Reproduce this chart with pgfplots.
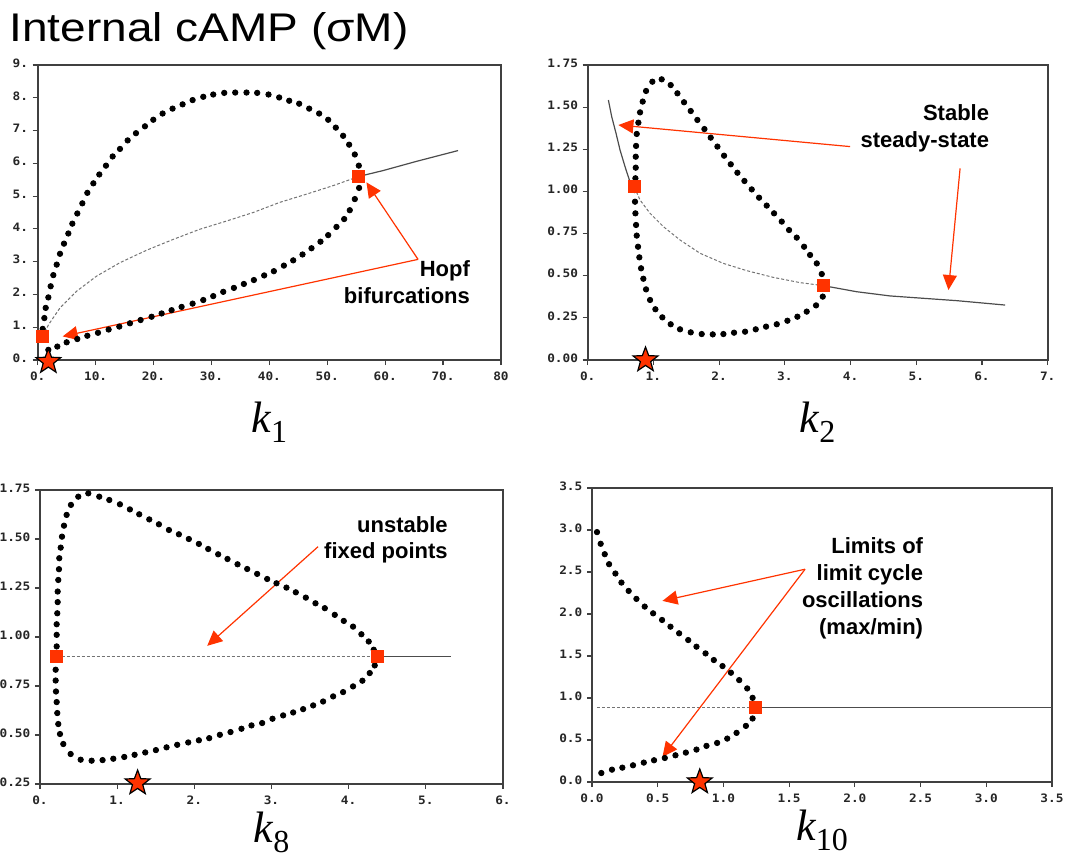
\documentclass[border=0pt]{standalone}
\usepackage{fontspec}
\setmainfont{Liberation Sans}
\newfontfamily\serif{Liberation Serif}
\newfontfamily\tickfont{DejaVu Sans Mono}[FakeStretch=1.1]
\newfontfamily\titlefont{Liberation Sans}[FakeStretch=1.15]
\usepackage{pgfplots}
\pgfplotsset{compat=1.18}
\usetikzlibrary{arrows.meta,shapes.geometric}

\definecolor{hopf}{HTML}{FF3300}

% filled five-point star used for the reference parameter value
\pgfdeclareplotmark{fstar}{%
  \node[star,star points=5,star point ratio=2.4,minimum size=13pt,inner sep=0pt,
        draw=black,line width=0.6pt,fill=hopf,solid]{};}

\newcommand\klabel[1]{{\serif\fontsize{22}{24}\selectfont\itshape k}%
  {\serif\fontsize{16}{18}\selectfont\raisebox{-5pt}{#1}}}

\tikzset{
  note/.style={anchor=north east, align=right, inner sep=0pt,
    font=\bfseries\fontsize{11}{13.4}\selectfont},
  arr/.style={hopf, line width=0.6pt, -{Triangle[length=7.5pt,width=7pt]}},
}
\pgfplotsset{
  panel/.style={
    scale only axis, clip=false,
    axis line style={draw=black!75, line width=0.9pt},
    tick style={black!75, line width=0.6pt},
    major tick length=2.5pt, tick align=outside,
    xtick pos=bottom, ytick pos=left,
    tick label style={font=\tickfont\bfseries\fontsize{5.8}{7}\selectfont, text=black!85},
    yticklabel style={yshift=1pt, xshift=1.2pt},
  },
  stable/.style={black!70, line width=0.6pt},
  unstable/.style={black!55, line width=0.5pt, dash pattern=on 1.5pt off 1pt},
  cycle/.style={only marks, mark=*, mark size=1.35pt, black},
  hopfpt/.style={only marks, mark=square*, mark size=3pt, hopf},
  refpt/.style={only marks, mark=fstar},
}

\begin{document}
\begin{tikzpicture}
\path[use as bounding box] (0pt,0pt) rectangle (533.5pt,429.5pt);

\node[anchor=base west, inner sep=0pt, font=\titlefont\fontsize{20}{24}\selectfont]
  at (4.5pt,408.6pt) {Internal cAMP (σM)};

% ---------------- k1 ----------------
\begin{axis}[panel, at={(18.85pt,249.5pt)}, anchor=south west,
  width=231.65pt, height=147.5pt,
  xmin=0, xmax=80, ymin=0, ymax=9,
  xtick={0,10,...,80}, xticklabels={0.,10.,20.,30.,40.,50.,60.,70.,80},
  ytick={0,1,...,9}, yticklabels={0.,1.,2.,3.,4.,5.,6.,7.,8.,9.},
  xlabel={\klabel{1}},
  xlabel style={at={(axis description cs:0.5,0)}, anchor=base, yshift=-36pt},
]
\addplot[unstable] coordinates {
  (0.86,0.72)(1.84,1.07)(3.85,1.59)(6.73,2.10)(10.18,2.56)(14.21,2.97)(18.81,3.35)
  (23.41,3.68)(28.01,3.99)(32.61,4.24)(37.21,4.50)(41.81,4.81)(46.42,5.06)
  (51.02,5.32)(55.45,5.6)};
\addplot[stable] coordinates {
  (55.45,5.6)(59.65,5.78)(65.40,6.06)(72.59,6.39)};
\addplot[cycle] coordinates {
  (0.86,0.95)(1.15,1.28)(1.38,1.59)(1.84,1.91)(2.24,2.25)(2.70,2.59)(3.28,2.91)
  (3.85,3.24)(4.54,3.55)(5.29,3.86)(5.98,4.16)(6.84,4.47)(7.71,4.78)(8.57,5.10)
  (9.61,5.39)(10.64,5.66)(11.79,5.93)(12.94,6.21)(14.21,6.44)(15.53,6.70)
  (16.97,6.92)(18.52,7.13)(19.96,7.33)(21.57,7.52)(23.29,7.67)(25.02,7.80)
  (26.75,7.93)(28.59,8.03)(30.31,8.10)(32.21,8.15)(34.11,8.16)(36.06,8.16)
  (37.90,8.15)(39.86,8.10)(41.70,8.01)(43.43,7.91)(45.15,7.82)(46.88,7.67)
  (48.60,7.52)(50.16,7.33)(51.48,7.09)(52.74,6.84)(53.78,6.57)(54.76,6.27)
  (55.45,5.93)(55.62,5.59)(55.50,5.25)(54.76,4.91)(53.89,4.57)(52.92,4.30)
  (51.59,4.06)(50.16,3.81)(48.83,3.61)(47.28,3.41)(45.73,3.22)(44.12,3.04)
  (42.51,2.88)(40.78,2.71)(39.11,2.58)(37.33,2.44)(35.60,2.32)(33.88,2.20)
  (32.04,2.08)(30.31,1.95)(28.59,1.83)(26.75,1.72)(24.85,1.62)(23.12,1.52)
  (21.40,1.42)(19.67,1.32)(17.77,1.22)(15.93,1.12)(14.09,1.02)(12.25,0.93)
  (10.41,0.83)(8.57,0.74)(6.84,0.64)(5.00,0.54)(3.39,0.41)(1.84,0.31)};
\addplot[hopfpt] coordinates {(0.86,0.72)(55.45,5.6)};
\draw[arr] (axis cs:65.68,3.07) -- (axis cs:56.77,5.42);
\draw[arr] (axis cs:65.68,3.07) -- (axis cs:4.31,0.72);
\node[note] at (axis cs:74.7,3.04) {Hopf\\bifurcations};
\addplot[refpt] coordinates {(1.84,-0.05)};
\end{axis}

% ---------------- k2 ----------------
\begin{axis}[panel, at={(293.85pt,249.5pt)}, anchor=south west,
  width=230pt, height=147.5pt,
  xmin=0, xmax=7, ymin=0, ymax=1.75,
  xtick={0,1,...,7}, xticklabels={0.,1.,2.,3.,4.,5.,6.,7.},
  ytick={0,0.25,...,1.75}, yticklabels={0.00,0.25,0.50,0.75,1.00,1.25,1.50,1.75},
  xlabel={\klabel{2}},
  xlabel style={at={(axis description cs:0.5,0)}, anchor=base, yshift=-36pt},
]
\addplot[stable] coordinates {
  (0.315,1.542)(0.365,1.444)(0.431,1.345)(0.492,1.246)(0.568,1.147)(0.634,1.068)(0.710,1.024)};
\addplot[unstable] coordinates {
  (0.710,1.024)(0.797,0.949)(0.949,0.870)(1.152,0.791)(1.405,0.712)(1.710,0.633)
  (2.065,0.573)(2.420,0.530)(2.826,0.490)(3.232,0.459)(3.587,0.441)};
\addplot[stable] coordinates {
  (3.587,0.441)(4.094,0.405)(4.602,0.380)(5.109,0.366)(5.616,0.352)(6.352,0.326)};
\addplot[cycle] coordinates {
  (0.984,1.651)(1.126,1.665)(1.263,1.631)(1.365,1.582)(1.466,1.529)(1.568,1.477)
  (1.669,1.424)(1.776,1.370)(1.872,1.319)(1.974,1.266)(2.075,1.212)(2.177,1.161)
  (2.278,1.111)(2.385,1.062)(2.496,1.012)(2.608,0.963)(2.724,0.916)(2.836,0.870)
  (2.953,0.821)(3.064,0.771)(3.181,0.726)(3.293,0.672)(3.384,0.623)(3.486,0.573)
  (3.562,0.510)(3.587,0.441)(3.577,0.376)(3.475,0.324)(3.333,0.287)(3.191,0.257)
  (3.039,0.233)(2.877,0.212)(2.714,0.198)(2.557,0.182)(2.395,0.168)(2.227,0.162)
  (2.065,0.154)(1.903,0.152)(1.735,0.154)(1.568,0.164)(1.405,0.182)(1.263,0.212)
  (1.136,0.253)(1.030,0.301)(0.949,0.356)(0.888,0.419)(0.847,0.482)(0.812,0.544)
  (0.786,0.609)(0.766,0.672)(0.746,0.738)(0.736,0.801)(0.726,0.870)(0.720,0.939)
  (0.715,1.008)(0.726,1.078)(0.731,1.141)(0.731,1.206)(0.736,1.270)(0.746,1.341)
  (0.771,1.408)(0.797,1.469)(0.837,1.533)(0.888,1.596)};
\addplot[hopfpt] coordinates {(0.71,1.03)(3.59,0.44)};
\draw[arr] (axis cs:3.993,1.266) -- (axis cs:0.467,1.394);
\draw[arr] (axis cs:5.667,1.137) -- (axis cs:5.490,0.415);
\node[note] at (axis cs:6.114,1.519) {Stable\\steady-state};
\addplot[refpt] coordinates {(0.88,0)};
\end{axis}

% ---------------- k8 ----------------
\begin{axis}[panel, at={(20pt,37.5pt)}, anchor=south west,
  width=231.5pt, height=147pt,
  xmin=0, xmax=6, ymin=0.25, ymax=1.75,
  xtick={0,1,...,6}, xticklabels={0.,1.,2.,3.,4.,5.,6.},
  ytick={0.25,0.5,...,1.75}, yticklabels={0.25,0.50,0.75,1.00,1.25,1.50,1.75},
  xlabel={\klabel{8}},
  xlabel style={at={(axis description cs:0.5,0)}, anchor=base, yshift=-29pt},
]
\addplot[unstable] coordinates {(0.216,0.9)(4.373,0.9)};
\addplot[stable] coordinates {(4.373,0.9)(5.331,0.9)};
\addplot[cycle] coordinates {
  (0.527,0.374)(0.397,0.403)(0.302,0.454)(0.259,0.505)(0.237,0.556)(0.224,0.612)
  (0.216,0.668)(0.207,0.722)(0.203,0.778)(0.203,0.833)(0.203,0.889)(0.216,0.952)
  (0.216,1.011)(0.216,1.065)(0.224,1.121)(0.229,1.178)(0.229,1.232)(0.237,1.291)
  (0.246,1.346)(0.250,1.402)(0.268,1.456)(0.285,1.512)(0.311,1.568)(0.345,1.623)
  (0.401,1.674)(0.496,1.716)(0.626,1.733)(0.768,1.716)(0.898,1.699)(1.036,1.677)
  (1.165,1.651)(1.286,1.626)(1.416,1.600)(1.541,1.575)(1.671,1.546)(1.800,1.524)
  (1.929,1.500)(2.059,1.475)(2.180,1.449)(2.309,1.422)(2.430,1.398)(2.560,1.371)
  (2.685,1.347)(2.814,1.322)(2.944,1.296)(3.065,1.274)(3.194,1.252)(3.315,1.228)
  (3.445,1.201)(3.570,1.172)(3.691,1.147)(3.820,1.113)(3.937,1.082)(4.057,1.053)
  (4.165,1.014)(4.260,0.977)(4.325,0.935)(4.338,0.855)(4.273,0.816)(4.178,0.777)
  (4.057,0.748)(3.928,0.719)(3.799,0.697)(3.669,0.671)(3.540,0.651)(3.410,0.632)
  (3.281,0.615)(3.151,0.600)(3.013,0.583)(2.879,0.561)(2.741,0.549)(2.611,0.532)
  (2.469,0.515)(2.331,0.501)(2.193,0.484)(2.059,0.473)(1.921,0.462)(1.778,0.450)
  (1.640,0.437)(1.502,0.423)(1.364,0.411)(1.226,0.399)(1.092,0.388)(0.950,0.379)
  (0.811,0.372)(0.669,0.369)};
\addplot[hopfpt] coordinates {(0.216,0.9)(4.373,0.9)};
\draw[arr] (axis cs:3.604,1.461) -- (axis cs:2.167,0.955);
\node[note] at (axis cs:5.288,1.619) {unstable\\fixed points};
\addplot[refpt] coordinates {(1.265,0.255)};
\end{axis}

% ---------------- k10 ----------------
\begin{axis}[panel, at={(296pt,38.5pt)}, anchor=south west,
  width=230pt, height=147pt,
  xmin=0, xmax=3.5, ymin=0, ymax=3.5,
  xtick={0,0.5,...,3.5}, xticklabels={0.0,0.5,1.0,1.5,2.0,2.5,3.0,3.5},
  ytick={0,0.5,...,3.5}, yticklabels={0.0,0.5,1.0,1.5,2.0,2.5,3.0,3.5},
  xlabel={\klabel{10}},
  xlabel style={at={(axis description cs:0.5,0)}, anchor=base, yshift=-29pt},
]
\addplot[unstable] coordinates {(0.038,0.89)(1.24,0.89)};
\addplot[stable] coordinates {(1.24,0.89)(3.5,0.89)};
\addplot[cycle] coordinates {
  (0.038,2.975)(0.066,2.836)(0.097,2.712)(0.130,2.593)(0.178,2.482)(0.224,2.374)
  (0.279,2.275)(0.338,2.180)(0.401,2.088)(0.465,2.008)(0.533,1.929)(0.597,1.849)
  (0.663,1.770)(0.732,1.690)(0.795,1.611)(0.864,1.531)(0.927,1.452)(0.993,1.380)
  (1.057,1.301)(1.120,1.213)(1.181,1.114)(1.222,1.002)(1.222,0.756)(1.171,0.668)
  (1.100,0.585)(1.029,0.517)(0.952,0.465)(0.871,0.430)(0.795,0.386)(0.714,0.350)
  (0.635,0.318)(0.554,0.286)(0.472,0.259)(0.394,0.231)(0.312,0.199)(0.231,0.171)
  (0.152,0.147)(0.071,0.107)};
\addplot[hopfpt] coordinates {(1.24,0.89)};
\draw[arr] (axis cs:1.621,2.533) -- (axis cs:0.536,2.156);
\draw[arr] (axis cs:1.621,2.533) -- (axis cs:0.536,0.298);
\node[note] at (axis cs:2.522,2.911) {Limits of\\limit cycle\\oscillations\\(max/min)};
\addplot[refpt] coordinates {(0.82,0)};
\end{axis}
\end{tikzpicture}
\end{document}
